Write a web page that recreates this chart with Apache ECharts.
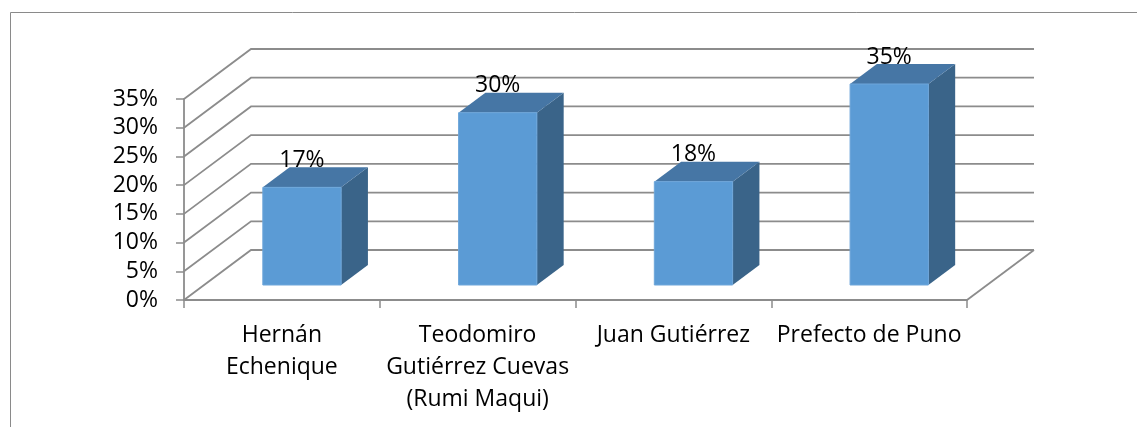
<!DOCTYPE html>
<html>
<head>
<meta charset="utf-8">
<script src="https://cdn.jsdelivr.net/npm/echarts@6/dist/echarts.min.js"></script>
<style>
html,body{margin:0;padding:0;background:#fff;}
#chart{width:1137px;height:427px;}
</style>
</head>
<body>
<div id="chart"></div>
<script>
const categories = ['Hernán\nEchenique', 'Teodomiro\nGutiérrez Cuevas\n(Rumi Maqui)', 'Juan Gutiérrez', 'Prefecto de Puno'];
const values = [17, 30, 18, 35];
const yTicks = [0, 5, 10, 15, 20, 25, 30, 35];

const FS = 23;
const DX = 67, DY = -50;          // depth offset of the back wall
const GRID_COLOR = '#8c8c8c';
const FRONT = '#5B9BD5', TOP = '#4676A5', SIDE = '#3A6489';

const chart = echarts.init(document.getElementById('chart'), null, {renderer: 'canvas'});

function renderGrid(params, api) {
  const cs = params.coordSys;
  const v = api.value(1);
  const y = api.coord([0, v])[1];
  const x0 = cs.x, x1 = cs.x + cs.width;
  const children = [{
    type: 'polyline',
    shape: {points: [[x0, y], [x0 + DX, y + DY], [x1 + DX, y + DY]]},
    style: {stroke: GRID_COLOR, lineWidth: 1.8, fill: null}
  }];
  if (v === 0) {
    children.push({
      type: 'line',
      shape: {x1: x1, y1: y, x2: x1 + DX, y2: y + DY},
      style: {stroke: GRID_COLOR, lineWidth: 1.8}
    });
  }
  return {type: 'group', children: children};
}

function renderBar(params, api) {
  const idx = api.value(0), v = api.value(1);
  const base = api.coord([idx, 0]);
  const top = api.coord([idx, v]);
  const band = api.size([1, 0])[0];
  const w = band * 0.4;
  const fx = DX * 0.3, fy = DY * 0.3;
  const sx = DX * 0.4, sy = DY * 0.4;
  const xl = base[0] - w / 2 + fx, xr = base[0] + w / 2 + fx;
  const yb = base[1] + fy, yt = top[1] + fy;
  return {
    type: 'group',
    children: [
      {type: 'polygon', shape: {points: [[xr, yt], [xr + sx, yt + sy], [xr + sx, yb + sy], [xr, yb]]}, style: {fill: SIDE}},
      {type: 'polygon', shape: {points: [[xl, yt], [xr, yt], [xr + sx, yt + sy], [xl + sx, yt + sy]]}, style: {fill: TOP}},
      {type: 'rect', shape: {x: xl, y: yt, width: w, height: yb - yt}, style: {fill: FRONT, stroke: '#6ea6da', lineWidth: 1}},
      {type: 'text', x: (xl + xr) / 2, y: yt + sy - 7,
        style: {text: v + '%', align: 'center', verticalAlign: 'middle', fontFamily: 'Open Sans', fontSize: FS, fill: '#000'}}
    ]
  };
}

chart.setOption({
  animation: false,
  backgroundColor: '#fff',
  graphic: [{
    type: 'rect', silent: true, z: -10,
    shape: {x: 10.5, y: 12.5, width: 1300, height: 600},
    style: {fill: null, stroke: '#8a8a8a', lineWidth: 1}
  }],
  grid: {left: 184, right: 170, top: 99, bottom: 127, containLabel: false},
  xAxis: {
    type: 'category',
    data: categories,
    axisLine: {show: true, lineStyle: {color: GRID_COLOR, width: 1.8}},
    axisTick: {show: true, length: 8, lineStyle: {color: GRID_COLOR, width: 1.5}},
    axisLabel: {interval: 0, fontFamily: 'Open Sans', fontSize: FS, color: '#000', lineHeight: 32, margin: 19}
  },
  yAxis: {
    type: 'value', min: 0, max: 35, interval: 5,
    axisLine: {show: true, lineStyle: {color: GRID_COLOR, width: 1.8}},
    axisTick: {show: true, length: 8, lineStyle: {color: GRID_COLOR, width: 1.5}},
    splitLine: {show: false},
    axisLabel: {formatter: '{value}%', fontFamily: 'Open Sans', fontSize: FS, color: '#000', margin: 26}
  },
  series: [
    {type: 'custom', z: 1, silent: true, data: yTicks.map(v => [0, v]), renderItem: renderGrid, clip: false},
    {type: 'custom', z: 2, silent: true, data: values.map((v, i) => [i, v]), renderItem: renderBar, clip: false}
  ]
});
</script>
</body>
</html>
